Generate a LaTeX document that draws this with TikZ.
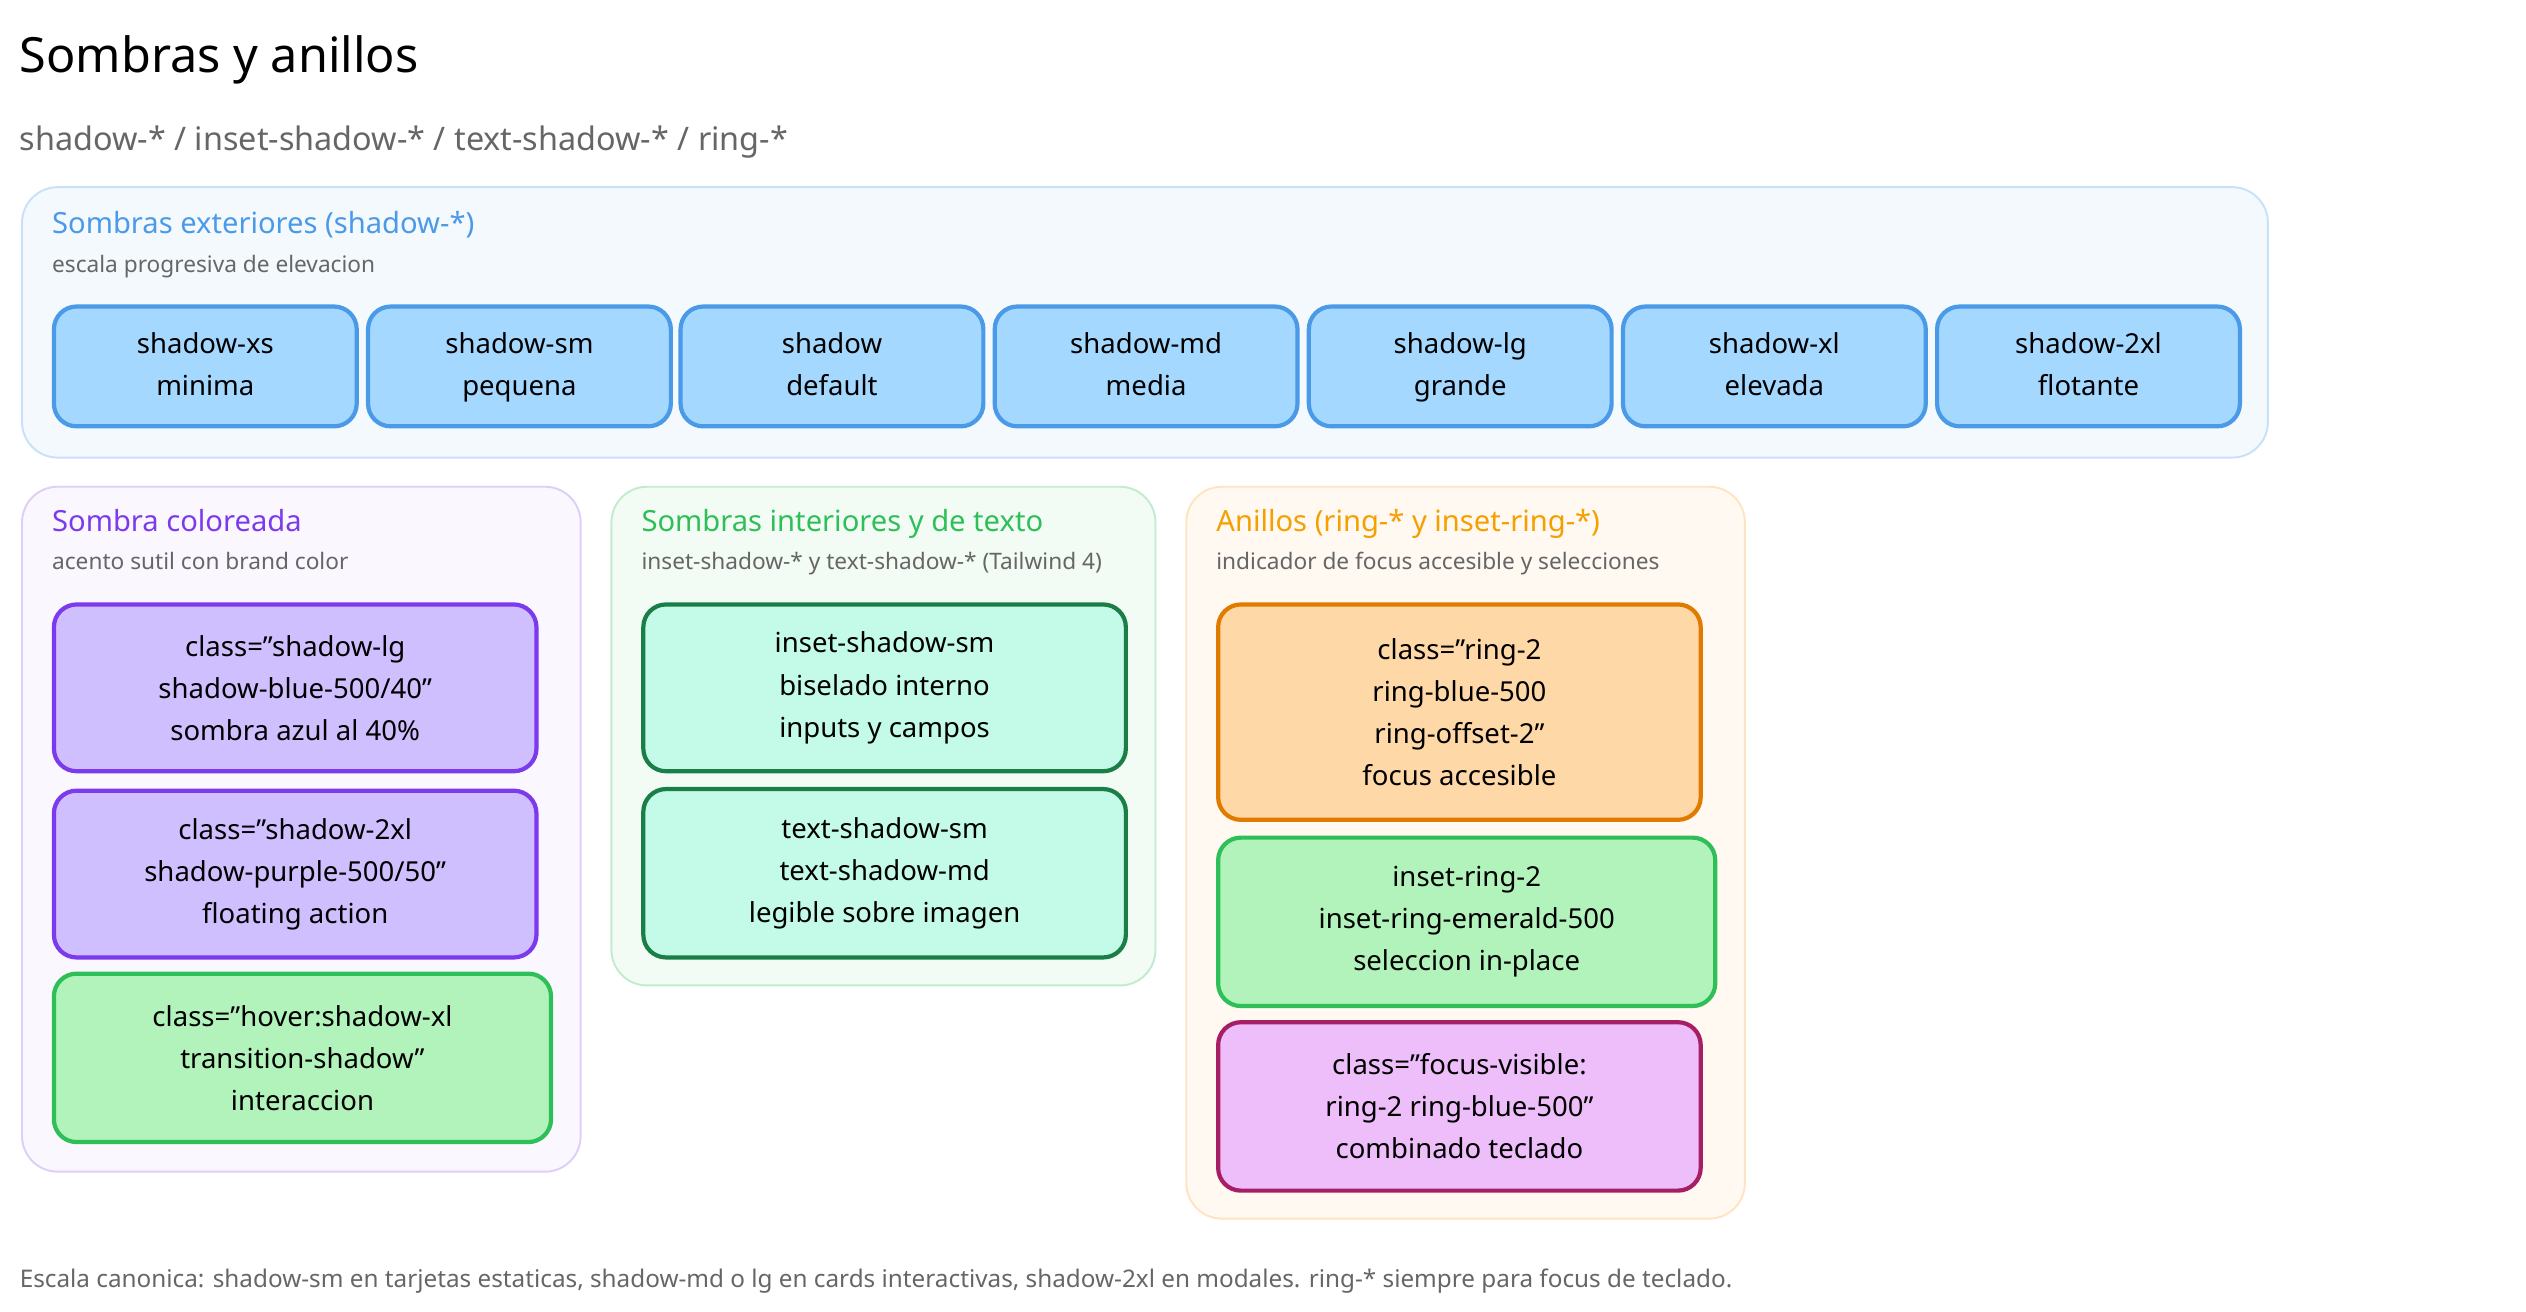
\documentclass[tikz,border=0pt]{standalone}
\usepackage{fontspec}
\setmainfont{Noto Sans}
\definecolor{bluefill}{HTML}{A5D8FF}
\definecolor{bluedraw}{HTML}{4A9AE8}
\definecolor{purpfill}{HTML}{D0BFFF}
\definecolor{purpdraw}{HTML}{7C3AED}
\definecolor{grnfill}{HTML}{B2F2BB}
\definecolor{grndraw}{HTML}{2FBF59}
\definecolor{mintfill}{HTML}{C3FAE8}
\definecolor{mintdraw}{HTML}{1A7F46}
\definecolor{orfill}{HTML}{FFD8A8}
\definecolor{ordraw}{HTML}{E07B00}
\definecolor{ortitle}{HTML}{F59F00}
\definecolor{pinkfill}{HTML}{EEBEFA}
\definecolor{pinkdraw}{HTML}{A61E64}
\definecolor{txtgray}{HTML}{666666}
\tikzset{
  group/.style={draw, rounded corners=22pt, line width=1.2pt, anchor=north west, inner sep=0pt},
  card/.style={draw, rounded corners=14pt, line width=2.6pt, anchor=north west, align=center,
    inner sep=0pt, font=\fontsize{17}{26}\selectfont},
  gtitle/.style={anchor=base west, inner sep=0pt, font=\fontsize{18}{22}\selectfont},
  gsub/.style={anchor=base west, inner sep=0pt, text=txtgray, font=\fontsize{14}{17}\selectfont},
}
\begin{document}
\begin{tikzpicture}[x=1pt,y=-1pt]
  \useasboundingbox (0,0) rectangle (1560,810);
  \node[anchor=base west, inner sep=0pt, font=\fontsize{30}{36}\selectfont] (title) at (12,45) {Sombras y anillos};
  \node[anchor=base west, inner sep=0pt, text=txtgray, font=\fontsize{20}{24}\selectfont] (subtitle) at (12,93)
    {shadow-* / inset-shadow-* / text-shadow-* / ring-*};
  % outer shadows
  \node[group, draw=bluedraw!30, fill=bluedraw!6, minimum width=1387pt, minimum height=167pt] (g1) at (13,115) {};
  \node[gtitle, text=bluedraw] (g1t) at (32,144) {Sombras exteriores (shadow-*)};
  \node[gsub] (g1s) at (32,168) {escala progresiva de elevacion};
  \foreach \name/\xx/\la/\lb in {xs/32/shadow-xs/minima, sm/226/shadow-sm/pequena, df/419/shadow/default,
      md/613/shadow-md/media, lg/807/shadow-lg/grande, xl/1001/shadow-xl/elevada, xxl/1195/shadow-2xl/flotante}
    \node[card, draw=bluedraw, fill=bluefill, minimum width=187pt, minimum height=74pt] (s\name) at (\xx,188)
      {\strut\la\\\strut\lb};
  % colored shadow
  \node[group, draw=purpdraw!25, fill=purpdraw!4, minimum width=345pt, minimum height=423pt] (g2) at (13,300) {};
  \node[gtitle, text=purpdraw] (g2t) at (32,328) {Sombra coloreada};
  \node[gsub] (g2s) at (32,352) {acento sutil con brand color};
  \node[card, draw=purpdraw, fill=purpfill, minimum width=298pt, minimum height=103pt] (c1) at (32,372)
    {class="shadow-lg\\shadow-blue-500/40"\\sombra azul al 40\%};
  \node[card, draw=purpdraw, fill=purpfill, minimum width=298pt, minimum height=103pt] (c2) at (32,487)
    {class="shadow-2xl\\shadow-purple-500/50"\\floating action};
  \node[card, draw=grndraw, fill=grnfill, minimum width=307pt, minimum height=104pt] (c3) at (32,600)
    {class="hover:shadow-xl\\transition-shadow"\\interaccion};
  % inset and text
  \node[group, draw=grndraw!30, fill=grndraw!6, minimum width=336pt, minimum height=308pt] (g3) at (377,300) {};
  \node[gtitle, text=grndraw] (g3t) at (396,328) {Sombras interiores y de texto};
  \node[gsub] (g3s) at (396,352) {inset-shadow-* y text-shadow-* (Tailwind 4)};
  \node[card, draw=mintdraw, fill=mintfill, minimum width=298pt, minimum height=103pt] (i1) at (396,372)
    {inset-shadow-sm\\biselado interno\\inputs y campos};
  \node[card, draw=mintdraw, fill=mintfill, minimum width=298pt, minimum height=104pt] (i2) at (396,486)
    {text-shadow-sm\\text-shadow-md\\legible sobre imagen};
  % rings
  \node[group, draw=orfill!70, fill=orfill!15, minimum width=345pt, minimum height=452pt] (g4) at (732,300) {};
  \node[gtitle, text=ortitle] (g4t) at (751,328) {Anillos (ring-* y inset-ring-*)};
  \node[gsub] (g4s) at (751,352) {indicador de focus accesible y selecciones};
  \node[card, draw=ordraw, fill=orfill, minimum width=298pt, minimum height=133pt] (r1) at (751,372)
    {class="ring-2\\ring-blue-500\\ring-offset-2"\\focus accesible};
  \node[card, draw=grndraw, fill=grnfill, minimum width=307pt, minimum height=104pt] (r2) at (751,516)
    {inset-ring-2\\inset-ring-emerald-500\\seleccion in-place};
  \node[card, draw=pinkdraw, fill=pinkfill, minimum width=298pt, minimum height=104pt] (r3) at (751,630)
    {class="focus-visible:\\ring-2 ring-blue-500"\\combinado teclado};
  \node[anchor=base west, inner sep=0pt, text=txtgray, font=\fontsize{15}{18}\selectfont] (foot) at (12,795)
    {Escala canonica: shadow-sm en tarjetas estaticas, shadow-md o lg en cards interactivas, shadow-2xl en modales. ring-* siempre para focus de teclado.};
\end{tikzpicture}
\end{document}
